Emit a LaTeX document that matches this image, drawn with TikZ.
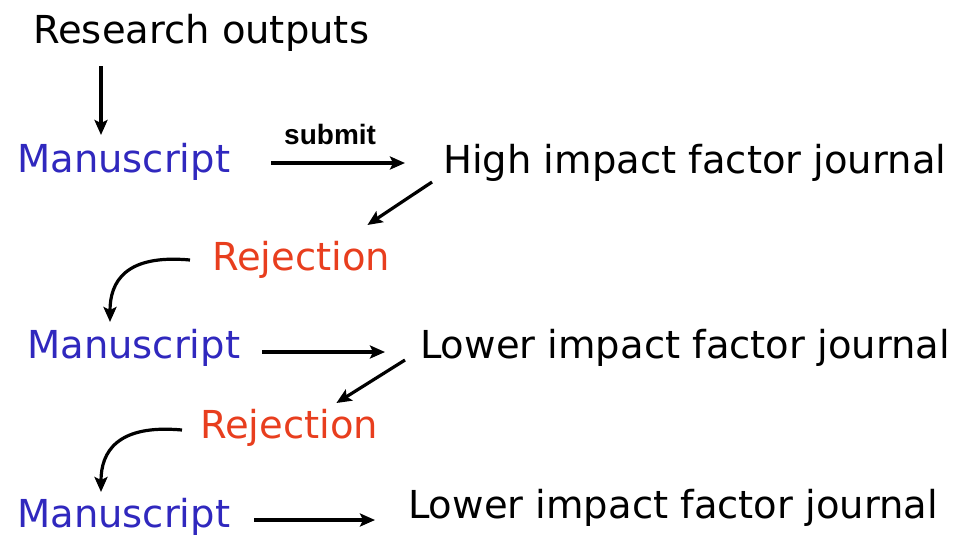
\documentclass[tikz,border=0pt]{standalone}
\usepackage{fontspec}
\setmainfont{DejaVu Sans}
\newfontfamily\subfont{Liberation Sans}
\usetikzlibrary{arrows.meta,calc}

\definecolor{msblue}{RGB}{48,40,190}
\definecolor{rejred}{RGB}{232,62,30}

\tikzset{
    txt/.style={anchor=base west, inner sep=0pt, font=\fontsize{38.5}{44}\selectfont},
    msnode/.style={txt, text=msblue},
    rejnode/.style={txt, text=rejred},
    arr/.style={-{Stealth[length=15pt,width=13pt,inset=3pt]}, line width=3.2pt},
}

\begin{document}
\begin{tikzpicture}[x=1pt,y=-1pt]
    \useasboundingbox (0,0) rectangle (965,536);

    % texts
    \node[txt] (res) at (33,43) {Research outputs};
    \node[msnode] (ms1) at (17,172) {Manuscript};
    \node[txt] (high) at (443,173) {High impact factor journal};
    \node[rejnode] (rej1) at (212,270) {Rejection};
    \node[msnode] (ms2) at (27,358) {Manuscript};
    \node[txt] (low1) at (420,358) {Lower impact factor journal};
    \node[rejnode] (rej2) at (200,438) {Rejection};
    \node[msnode] (ms3) at (17,527) {Manuscript};
    \node[txt] (low2) at (408,518) {Lower impact factor journal};

    % straight arrows
    \draw[arr] ($(res.base west)+(68,23)$) -- ($(ms1.base west)+(84,-37)$);
    \draw[arr] ($(ms1.base east)+(41,-9)$) -- ($(high.base west)+(-38,-10)$)
        node[pos=0.44, above=13pt, font=\subfont\bfseries\fontsize{28}{32}\selectfont] (sub) {submit};
    \draw[arr] ($(high.base west)+(-11,9)$) -- ($(rej1.base east)+(-23,-45)$);
    \draw[arr] ($(ms2.base east)+(22,-6)$) -- ($(low1.base west)+(-35,-6)$);
    \draw[arr] ($(low1.base west)+(-15,2)$) -- ($(rej2.base east)+(-42,-35)$);
    \draw[arr] ($(ms3.base east)+(24,-7)$) -- ($(low2.base west)+(-33,2)$);

    % curved arrows
    \draw[arr] ($(rej1.base west)+(-22,-10)$) .. controls +(-65,-6) and +(0,-40) .. ($(ms2.base west)+(83,-36)$);
    \draw[arr] ($(rej2.base west)+(-18,-8)$) .. controls +(-65,-6) and +(0,-40) .. ($(ms3.base west)+(84,-35)$);
\end{tikzpicture}
\end{document}
